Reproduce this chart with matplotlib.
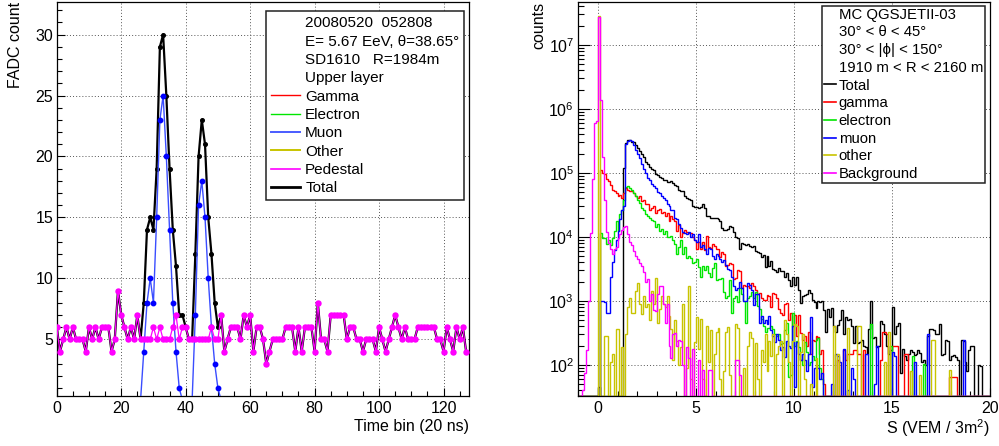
import numpy as np
import matplotlib
matplotlib.use("Agg")
import matplotlib.pyplot as plt
from matplotlib.lines import Line2D
from matplotlib.ticker import MultipleLocator

plt.rcParams['font.family'] = ['Liberation Sans', 'DejaVu Sans']
plt.rcParams['mathtext.default'] = 'regular'

# ---------------- left panel data: FADC trace ----------------
time_bin = np.arange(128)
pedestal = [6, 4, 5, 6, 5, 6, 5, 5, 5, 4,
            6, 5, 6, 5, 6, 6, 6, 4, 5, 9,
            7, 6, 5, 6, 5, 7, 5, 5, 5, 5,
            6, 5, 6, 5, 5, 5, 6, 7, 5, 6,
            6, 5, 5, 5, 5, 5, 5, 5, 6, 5,
            5, 7, 4, 5, 6, 6, 6, 5, 7, 6,
            7, 4, 6, 6, 5, 3, 4, 5, 5, 5,
            5, 6, 6, 6, 4, 6, 4, 6, 6, 6,
            4, 8, 5, 5, 4, 7, 7, 7, 7, 7,
            5, 6, 6, 5, 5, 4, 5, 5, 5, 4,
            6, 5, 4, 5, 6, 7, 6, 5, 6, 5,
            5, 5, 6, 6, 6, 6, 6, 6, 5, 5,
            4, 6, 5, 4, 6, 5, 6, 4]
total = [6, 4, 5, 6, 5, 6, 5, 5, 5, 4,
         6, 5, 6, 5, 6, 6, 6, 4, 5, 9,
         7, 6, 5, 6, 5, 7, 5, 8, 14, 15,
         14, 19, 29, 30, 25, 19, 14, 11, 7, 7,
         6, 5, 5, 12, 20, 23, 21, 15, 12, 8,
         6, 7, 4, 5, 6, 6, 6, 5, 7, 6,
         7, 4, 6, 6, 5, 3, 4, 5, 5, 5,
         5, 6, 6, 6, 4, 6, 4, 6, 6, 6,
         4, 8, 5, 5, 4, 7, 7, 7, 7, 7,
         5, 6, 6, 5, 5, 4, 5, 5, 5, 4,
         6, 5, 4, 5, 6, 7, 6, 5, 6, 5,
         5, 5, 6, 6, 6, 6, 6, 6, 5, 5,
         4, 6, 5, 4, 6, 5, 6, 4]
muon = [0] * 27 + [4, 8, 10, 8, 15, 23, 25, 20, 14, 8, 4, 1,
                   0, 0, 0, 0, 7, 16, 18, 15, 10, 6, 3, 1] + [0] * 77

left_header = ["20080520  052808", "E= 5.67 EeV, \u03b8=38.65\u00b0",
               "SD1610   R=1984m", "Upper layer"]
left_entries = ["Gamma", "Electron", "Muon", "Other", "Pedestal", "Total"]

# ---------------- right panel data: signal histograms ----------------
s_lo, s_hi, n_bins = -1.0, 20.0, 210

h_total = [0]*10 + [45] + [0]*12 + [
    1.2e5, 2.9e5, 3.3e5, 3.3e5, 3.1e5, 3.0e5, 2.7e5,
    2.5e5, 2.2e5, 2.0e5, 1.8e5, 1.5e5, 1.4e5, 1.25e5, 1.15e5, 1.1e5, 9.5e4,
    9.2e4, 8.8e4, 8.5e4, 7.9e4, 7.8e4, 7.2e4, 7.3e4, 7.6e4, 7.0e4, 6.5e4,
    6.3e4, 5.4e4, 5.2e4, 5.3e4, 4.3e4, 4.0e4, 3.9e4, 3.8e4, 3.0e4, 2.9e4,
    2.9e4, 2.8e4, 2.9e4, 3.3e4, 2.8e4, 2.1e4, 2.1e4, 2.0e4, 2.0e4, 1.95e4,
    1.95e4, 1.9e4, 1.8e4, 1.4e4, 1.3e4, 1.3e4, 1.35e4, 1.5e4, 1.45e4, 1.2e4,
    1.0e4, 9.5e3, 6.6e3, 8.0e3, 7.8e3, 7.6e3, 7.8e3, 7.2e3, 7.0e3, 7.3e3,
    6.0e3, 5.8e3, 5.6e3, 4.9e3, 5.2e3, 3.4e3, 5.0e3, 3.5e3, 4.2e3, 3.2e3,
    3.0e3, 2.8e3, 3.3e3, 2.9e3, 2.9e3, 2.4e3, 2.7e3, 2.1e3, 1.7e3, 2.4e3,
    1.8e3, 2.4e3, 1.5e3, 920, 1.2e3, 1.25e3, 1.3e3, 1.5e3, 1.35e3, 1.05e3,
    950, 780, 1.0e3, 980, 990, 720, 330, 760, 570, 780,
    400, 330, 420, 500, 720, 310, 560, 500, 520, 400,
    220, 400, 220, 230, 250, 200, 190, 150, 370, 1000,
    260, 270, 190, 200, 480, 440, 300, 200, 150, 170,
    800, 300, 400, 450, 75, 180, 140, 120, 150, 170,
    160, 145, 150, 170, 155, 110, 120, 100, 280, 370,
    360, 350, 310, 300, 430, 145, 150, 245, 240, 120,
    140, 145, 135, 120, 0, 250, 240, 110, 80, 170,
    200, 195, 0, 0, 100, 95, 0, 0, 0, 0]

h_gamma = [0]*11 + [
    1.1e5, 1.0e5, 9.5e4, 8.2e4, 7.5e4, 6.5e4, 5.4e4, 5.2e4, 4.8e4,
    4.3e4, 4.5e4, 4.0e4, 4.8e4, 5.8e4, 5.4e4, 5.2e4, 5.2e4, 4.8e4, 4.4e4,
    4.1e4, 4.4e4, 3.6e4, 3.8e4, 3.3e4, 3.3e4, 2.6e4, 2.8e4, 3.0e4, 2.4e4,
    2.6e4, 2.7e4, 2.4e4, 2.5e4, 2.1e4, 2.4e4, 1.75e4, 2.1e4, 1.9e4, 1.75e4,
    1.25e4, 1.55e4, 1.0e4, 1.15e4, 1.3e4, 1.2e4, 1.15e4, 1.15e4, 1.0e4, 9.0e3,
    6.5e3, 8.5e3, 6.6e3, 8.5e3, 6.3e3, 1.05e4, 7.0e3, 6.8e3, 7.8e3, 7.2e3,
    6.6e3, 6.4e3, 4.9e3, 5.9e3, 5.5e3, 3.5e3, 3.6e3, 3.9e3, 3.8e3, 2.2e3,
    2.3e3, 3.0e3, 2.9e3, 1.6e3, 1.8e3, 1.7e3, 1.7e3, 1.6e3, 1.9e3, 1.7e3,
    1.5e3, 1.3e3, 1.35e3, 1.1e3, 1.05e3, 1.05e3, 1.25e3, 1.2e3, 800, 1.35e3,
    1.3e3, 1.1e3, 750, 650, 600, 900, 920, 500, 640, 400,
    600, 280, 610, 320, 250, 280, 200, 330, 150, 250,
    240, 280, 270, 150, 170, 50, 0, 0, 0, 0,
    0, 0, 120, 0, 0, 170, 120, 150, 150, 150,
    170, 170, 150, 150, 0, 170, 0, 0, 0, 0,
    0, 0, 0, 0, 120, 330, 330, 310, 0, 0,
    200, 195, 195, 0, 0, 0, 150, 150, 0, 0,
    0, 0, 0, 0, 0, 0, 0, 0, 0, 0,
    0, 0, 0, 0, 0, 0, 0, 0, 0, 66,
    66, 66, 66, 0, 0, 0, 0, 0, 0, 0,
    0, 0, 0, 0, 0, 0, 0, 0, 0, 0]

h_electron = [0]*11 + [
    1.15e4, 9.5e3, 9.5e3, 7.9e3, 9.0e3, 7.6e3, 9.5e3, 1.25e4, 1.75e4,
    1.25e4, 2.3e4, 2.6e4, 3.8e4, 6.1e4, 6.3e4, 5.8e4, 5.5e4, 4.8e4, 4.3e4,
    3.8e4, 3.4e4, 2.8e4, 2.6e4, 2.3e4, 2.1e4, 1.95e4, 1.85e4, 1.75e4, 1.45e4,
    1.6e4, 1.25e4, 1.35e4, 1.1e4, 1.25e4, 1.0e4, 1.0e4, 1.05e4, 8.9e3, 7.9e3,
    5.5e3, 7.1e3, 8.9e3, 5.5e3, 7.1e3, 4.7e3, 5.0e3, 4.7e3, 3.9e3, 4.1e3,
    4.5e3, 3.4e3, 2.4e3, 3.5e3, 3.1e3, 3.5e3, 2.7e3, 2.4e3, 3.3e3, 3.9e3,
    2.1e3, 2.2e3, 2.2e3, 2.3e3, 1.4e3, 1.1e3, 1.2e3, 2.1e3, 650, 1.1e3,
    1.2e3, 950, 1.6e3, 1.3e3, 1.0e3, 450, 1.1e3, 1.2e3, 1.4e3, 1.1e3,
    1.4e3, 850, 750, 520, 400, 330, 380, 380, 400, 360,
    300, 280, 300, 210, 220, 350, 450, 65, 70, 650,
    200, 240, 190, 120, 100, 230, 160, 100, 110, 140,
    120, 250, 260, 90, 60, 0, 0, 0, 0, 0,
    0, 0, 0, 0, 0, 0, 0, 0, 0, 0,
    0, 0, 0, 0, 0, 0, 0, 0, 0, 440,
    0, 0, 0, 0, 0, 0, 0, 0, 0, 195,
    0, 0, 0, 0, 0, 0, 0, 0, 0, 0,
    140, 0, 0, 0, 0, 0, 105, 0, 0, 0,
    0, 0, 0, 0, 0, 0, 0, 0, 0, 0,
    0, 0, 0, 0, 0, 0, 0, 0, 0, 0,
    0, 0, 0, 0, 0, 0, 0, 0, 0, 0]

h_muon = [0]*11 + [
    1000, 1000, 950, 650, 650, 2400, 4000, 6300, 9000,
    1.25e4, 1.9e4, 2.6e4, 3.0e4, 2.8e5, 3.2e5, 3.3e5, 3.2e5, 2.7e5, 2.3e5,
    2.0e5, 1.7e5, 1.4e5, 1.15e5, 1.0e5, 8.5e4, 7.8e4, 6.8e4, 6.3e4, 5.8e4,
    5.0e4, 4.8e4, 4.4e4, 4.0e4, 3.8e4, 3.3e4, 3.0e4, 2.6e4, 2.6e4, 2.0e4,
    1.9e4, 1.6e4, 1.4e4, 1.2e4, 1.15e4, 1.1e4, 1.2e4, 1.0e4, 1.1e4, 9.0e3,
    8.5e3, 1.1e4, 7.0e3, 7.5e3, 6.5e3, 5.5e3, 6.8e3, 6.5e3, 5.0e3, 4.5e3,
    5.5e3, 5.0e3, 4.5e3, 4.0e3, 4.3e3, 3.6e3, 3.2e3, 3.0e3, 2.4e3, 1.7e3,
    1.5e3, 1.6e3, 2.0e3, 1.6e3, 1.0e3, 1.0e3, 1.9e3, 1.8e3, 1.5e3, 870,
    1.3e3, 1.3e3, 450, 580, 450, 500, 430, 580, 350, 280,
    230, 310, 250, 170, 190, 135, 240, 195, 185, 400,
    45, 230, 150, 120, 150, 120, 80, 150, 570, 45,
    90, 95, 90, 60, 75, 0, 0, 0, 0, 50,
    0, 150, 140, 110, 0, 180, 0, 40, 0, 90,
    60, 0, 0, 0, 0, 0, 150, 150, 0, 0,
    0, 50, 200, 0, 0, 0, 0, 0, 0, 0,
    160, 140, 0, 0, 0, 0, 0, 0, 0, 0,
    0, 110, 0, 0, 0, 0, 0, 0, 300, 0,
    0, 0, 0, 0, 0, 0, 0, 0, 0, 0,
    0, 0, 0, 0, 0, 0, 250, 0, 0, 0,
    0, 0, 0, 0, 0, 0, 0, 0, 0, 0]

h_other = [0]*10 + [
    2.8e7, 0, 0, 280, 280, 0, 110, 150, 0, 370,
    370, 0, 190, 0, 310, 800, 1100, 650, 650, 1.45e3,
    1.9e3, 900, 630, 1.2e3, 800, 900, 500, 1.45e3, 900, 2.3e3,
    450, 740, 1.2e3, 900, 800, 1.2e3, 580, 370, 120, 500,
    240, 100, 190, 900, 0, 90, 1.7e3, 60, 0, 230,
    560, 180, 520, 60, 0, 400, 110, 350, 0, 150,
    330, 380, 60, 0, 80, 330, 390, 70, 0, 0,
    430, 380, 0, 0, 90, 0, 200, 330, 260, 0,
    220, 60, 0, 170, 110, 300, 80, 240, 140, 300,
    0, 150, 200, 240, 0, 500, 300, 110, 0, 240,
    440, 400, 0, 160, 300, 60, 0, 0, 50, 0,
    0, 130, 0, 0, 0, 0, 0, 0, 0, 0,
    410, 0, 150, 0, 0, 0, 0, 380, 0, 0,
    0, 0, 400, 400, 0, 0, 0, 0, 0, 0,
    0, 0, 0, 0, 0, 0, 110, 0, 330, 0,
    0, 0, 0, 0, 0, 0, 0, 0, 0, 80,
    0, 0, 0, 0, 70, 0, 0, 0, 0, 0,
    250, 250, 0, 0, 0, 0, 0, 0, 0, 85,
    0, 0, 0, 0, 0, 0, 0, 0, 0, 0,
    0, 0, 0, 0, 0, 0, 0, 0, 0, 0]

h_background = [
    0, 0, 40, 75, 170, 1000, 1.15e4, 8e4, 6e5, 6.5e5,
    2.7e7, 1.4e6, 1.8e5, 3.8e4, 1.2e4, 8.0e3, 6.5e3, 5.5e3, 6.5e3, 7.0e3,
    9.5e3, 1.1e4, 1.3e4, 1.45e4, 1.5e4, 1.1e4, 8.5e3, 7.5e3, 6.0e3, 5.0e3,
    4.5e3, 3.9e3, 3.5e3, 2.8e3, 2.0e3, 2.2e3, 1.0e3, 1.3e3, 720, 700,
    1.3e3, 1.7e3, 1.7e3, 900, 450, 900, 200, 130, 310, 320,
    200, 250, 240, 100, 0, 190, 130, 0, 180, 0,
    0, 120, 0, 85, 0, 0, 85, 85, 0, 0,
    0, 0, 0, 0, 0, 0, 0, 0, 0, 0,
    120, 120, 70] + [0]*127

right_header = ["MC QGSJETII-03", "30\u00b0 < \u03b8 < 45\u00b0",
                "30\u00b0 < |\u03d5| < 150\u00b0", "1910 m < R < 2160 m"]
right_entries = ["Total", "gamma", "electron", "muon", "other", "Background"]

# ---------------- styling ----------------
C_RED, C_GREEN, C_BLUE = '#ff0000', '#00e600', '#0000ff'
C_YEL, C_MAG, C_BLK = '#c8c400', '#ff00ff', '#000000'
GRID = dict(linestyle=(0, (1, 2.2)), color='#555555', linewidth=0.7)
FS_TICK, FS_LAB = 11.5, 11.5

fig = plt.figure(figsize=(9.99, 4.46), dpi=100)
axL = fig.add_axes([0.0568, 0.1121, 0.4130, 0.8841])
axR = fig.add_axes([0.5789, 0.1121, 0.4121, 0.8841])

# ---- left ----
axL.plot(time_bin, total, color=C_BLK, lw=1.6, marker='o', ms=2.6, zorder=3)
axL.plot(time_bin, muon, color='#3a4dff', lw=1.0, marker='o', ms=3.2,
         mfc=C_BLUE, mec=C_BLUE, zorder=4)
axL.plot(time_bin, pedestal, color=C_MAG, lw=0.9, marker='o', ms=3.6, zorder=5)
axL.set_xlim(0, 128)
axL.set_ylim(0.35, 32.7)
axL.xaxis.set_major_locator(MultipleLocator(20))
axL.xaxis.set_minor_locator(MultipleLocator(5))
axL.yaxis.set_major_locator(MultipleLocator(5))
axL.yaxis.set_minor_locator(MultipleLocator(1))
axL.grid(True, which='major', **GRID)
axL.set_axisbelow(True)

hL = [Line2D([], [], linestyle='none')] * 4 + [
    Line2D([], [], color=C_RED, lw=1.0),
    Line2D([], [], color=C_GREEN, lw=1.0),
    Line2D([], [], color='#4a5cff', lw=1.4),
    Line2D([], [], color=C_YEL, lw=1.4),
    Line2D([], [], color=C_MAG, lw=1.2),
    Line2D([], [], color=C_BLK, lw=2.0)]
legL = axL.legend(hL, left_header + left_entries, loc='upper right',
                  bbox_to_anchor=(0.988, 0.976), fontsize=11,
                  handlelength=1.9, handletextpad=0.35, borderpad=0.33,
                  labelspacing=0.285, borderaxespad=0, fancybox=False,
                  framealpha=1, edgecolor='#222222')
legL.get_frame().set_linewidth(1.1)
legL.set_zorder(10)
axL.set_ylabel('FADC count', fontsize=FS_LAB, loc='top')
axL.yaxis.set_label_coords(-0.082, 1.0)
axL.set_xlabel('Time bin (20 ns)', fontsize=FS_LAB, loc='right')
axL.xaxis.set_label_coords(1.0, -0.058)

# ---- right ----
edges = np.linspace(s_lo, s_hi, n_bins + 1)
ymin, ymax = 32.8, 4.75e7
series = [(h_total, C_BLK), (h_gamma, C_RED), (h_electron, C_GREEN),
          (h_muon, C_BLUE), (h_other, C_YEL), (h_background, C_MAG)]
for vals, col in series:
    axR.stairs(np.clip(np.asarray(vals, float), ymin, None), edges,
               color=col, lw=1.0, baseline=None)
axR.set_yscale('log')
axR.set_xlim(s_lo, s_hi)
axR.set_ylim(ymin, ymax)
axR.xaxis.set_major_locator(MultipleLocator(5))
axR.xaxis.set_minor_locator(MultipleLocator(1))
axR.grid(True, which='major', **GRID)
axR.set_axisbelow(True)

hR = [Line2D([], [], linestyle='none')] * 4 + [
    Line2D([], [], color=c, lw=1.2) for _, c in series]
legR = axR.legend(hR, right_header + right_entries, loc='upper right',
                  bbox_to_anchor=(0.988, 0.990), fontsize=10.7,
                  handlelength=0.8, handletextpad=0.16, borderpad=0.14,
                  labelspacing=0.25, borderaxespad=0, fancybox=False,
                  framealpha=1, edgecolor='#222222')
legR.get_frame().set_linewidth(1.1)
legR.set_zorder(10)
axR.set_ylabel('counts', fontsize=FS_LAB, loc='top')
axR.yaxis.set_label_coords(-0.078, 1.0)
axR.set_xlabel('S (VEM / 3m$^{2}$)', fontsize=FS_LAB, loc='right')
axR.xaxis.set_label_coords(1.0, -0.055)

for ax in (axL, axR):
    ax.tick_params(which='both', direction='in', top=False, right=False,
                   labelsize=FS_TICK, width=0.8)
    ax.tick_params(which='major', length=6)
    ax.tick_params(which='minor', length=3.6)
    ax.tick_params(axis='x', pad=3.5)
    ax.tick_params(axis='y', pad=2.5)
    for sp in ax.spines.values():
        sp.set_linewidth(0.9)
axR.tick_params(axis='y', which='major', length=8.6)
axR.tick_params(axis='y', which='minor', length=4.3)
axR.tick_params(axis='y', pad=3)

fig.savefig('out.png', dpi=100)
